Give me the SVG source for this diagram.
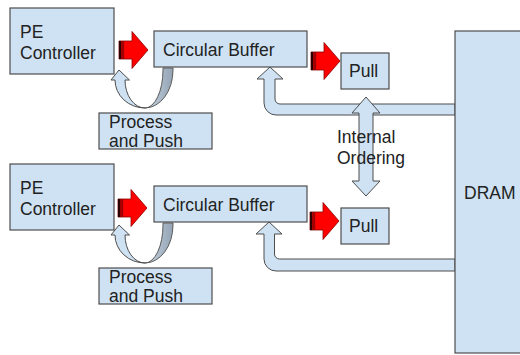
<svg xmlns="http://www.w3.org/2000/svg" width="520" height="355" viewBox="0 0 520 355">
  <defs>
    <style>
      .box { fill: #cfe2f3; stroke: #4d4d4d; stroke-width: 1.2; }
      .flow { fill: #cfe2f3; stroke: #4d4d4d; stroke-width: 1; }
      .back { fill: url(#backShade); stroke: #5a5a5a; stroke-width: 1; }
      .push { fill: #ff0000; stroke: #8a0000; stroke-width: 0.8; }
      .label { font-family: "Liberation Sans", Arial, sans-serif; font-size: 17.5px; fill: #222; }
    </style>
    <linearGradient id="backShade" x1="0" y1="0" x2="1" y2="0">
      <stop offset="0" stop-color="#c9d5e1"/>
      <stop offset="1" stop-color="#94a4b5"/>
    </linearGradient>
    <!-- red striped push arrow, origin at the left end of its shaft centre line -->
    <g id="redArrow">
      <path class="push" d="M0,-9 L13,-9 L13,-18.5 L29,0 L13,18.5 L13,9 L0,9 Z"/>
      <rect x="0" y="-9" width="2.2" height="18" fill="#2a0000"/>
      <rect x="2.2" y="-9" width="3" height="18" fill="#a00000"/>
    </g>
    <!-- loop from buffer back to controller -->
    <g id="loopArrow">
      <path class="back" d="M163,68 L173,68 L173,70 A28,38 0 0 1 145,108 A18,38 0 0 0 163,70 Z"/>
      <path class="flow" d="M119,70 L129.5,80 L125,80 A20,28 0 0 0 145,108 A30,28 0 0 1 115,80 L111,80 Z"/>
    </g>
  </defs>

  <!-- connectors -->
  <g id="connectors">
    <path class="flow" d="M270,67 L283,79 L275,79 L275,99 A5,5 0 0 0 280,104 L455,104 L455,115 L276,115 A12,12 0 0 1 264,103 L264,79 L257,79 Z"/>
    <path class="flow" d="M269,222 L282,234 L274.5,234 L274.5,254 A5,5 0 0 0 279.5,259 L455,259 L455,271 L276,271 A12,12 0 0 1 264,259 L264,234 L256,234 Z"/>
    <path class="flow" d="M366,97 L380,113 L373,113 L373,181 L380,181 L366,196 L352,181 L359,181 L359,113 L352,113 Z"/>
    <use href="#redArrow" x="119" y="50"/>
    <use href="#redArrow" x="311" y="61"/>
    <use href="#redArrow" x="118" y="208"/>
    <use href="#redArrow" x="310" y="221"/>
    <use href="#loopArrow"/>
    <use href="#loopArrow" y="155"/>
  </g>

  <g id="internal-ordering-label">
    <text class="label" x="337" y="143">Internal</text>
    <text class="label" x="337" y="164">Ordering</text>
  </g>

  <!-- upper lane -->
  <g id="pe-controller-1">
    <rect class="box" x="10" y="8" width="104" height="66"/>
    <text class="label" x="20" y="38">PE</text>
    <text class="label" x="20" y="59">Controller</text>
  </g>
  <g id="circular-buffer-1">
    <rect class="box" x="154" y="31" width="153" height="36"/>
    <text class="label" x="163" y="55.5">Circular Buffer</text>
  </g>
  <g id="pull-1">
    <rect class="box" x="341" y="53" width="48" height="36"/>
    <text class="label" x="349" y="77">Pull</text>
  </g>
  <g id="process-push-1">
    <rect class="box" x="99" y="113" width="113" height="36"/>
    <text class="label" x="109" y="128">Process</text>
    <text class="label" x="109" y="147">and Push</text>
  </g>

  <!-- lower lane -->
  <g id="pe-controller-2">
    <rect class="box" x="10" y="164" width="104" height="66"/>
    <text class="label" x="20" y="194">PE</text>
    <text class="label" x="20" y="215">Controller</text>
  </g>
  <g id="circular-buffer-2">
    <rect class="box" x="154" y="186" width="153" height="36"/>
    <text class="label" x="163" y="210.5">Circular Buffer</text>
  </g>
  <g id="pull-2">
    <rect class="box" x="341" y="208" width="48" height="36"/>
    <text class="label" x="349" y="232">Pull</text>
  </g>
  <g id="process-push-2">
    <rect class="box" x="99" y="268" width="113" height="36"/>
    <text class="label" x="109" y="283">Process</text>
    <text class="label" x="109" y="302">and Push</text>
  </g>

  <!-- shared memory -->
  <g id="dram">
    <rect class="box" x="455" y="31" width="70" height="322"/>
    <text class="label" x="464" y="199">DRAM</text>
  </g>
</svg>
